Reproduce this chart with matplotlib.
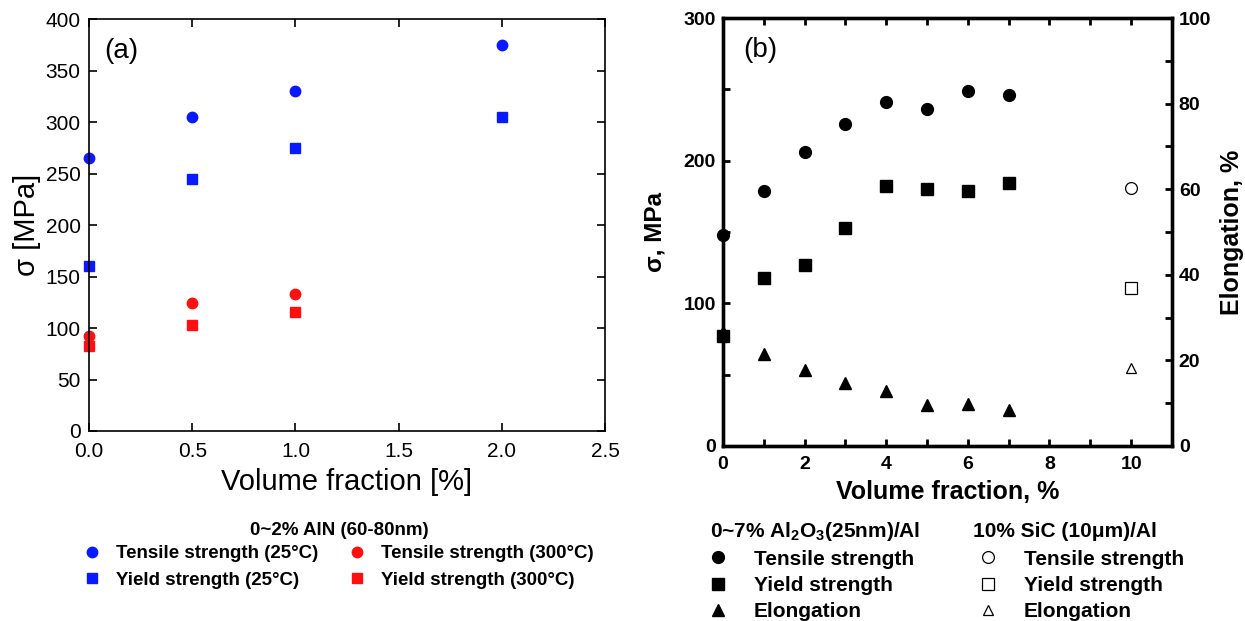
import numpy as np
import matplotlib.pyplot as plt
from matplotlib.ticker import MultipleLocator

plt.rcParams['font.family'] = ['Liberation Sans', 'DejaVu Sans']
plt.rcParams['mathtext.fontset'] = 'custom'
plt.rcParams['mathtext.rm'] = 'Liberation Sans:bold'

# (a) AlN / Al
vf_a = [0.0, 0.5, 1.0, 2.0]
ts_25 = [265, 305, 330, 375]
ys_25 = [160, 245, 275, 305]
vf_a_hot = [0.0, 0.5, 1.0]
ts_300 = [92, 124, 133]
ys_300 = [83, 103, 116]

# (b) Al2O3 / Al and SiC / Al
vf_b = [0, 1, 2, 3, 4, 5, 6, 7]
ts_b = [148, 179, 206, 226, 241, 236, 249, 246]
ys_b = [77, 118, 127, 153, 182, 180, 179, 184]
el_b = [26.5, 21.4, 17.7, 14.8, 12.8, 9.5, 9.9, 8.3]
vf_sic = [10]
ts_sic = [181]
ys_sic = [111]
el_sic = [18.3]

fig = plt.figure(figsize=(12.45, 6.21), dpi=100)

# ---- panel (a)
ax1 = fig.add_axes([0.0715, 0.306, 0.4145, 0.663])
ax1.plot(vf_a, ts_25, 'o', color='#0a1aff', ms=7.5, clip_on=False, label='Tensile strength (25°C)')
ax1.plot(vf_a, ys_25, 's', color='#0a1aff', ms=7, clip_on=False, label='Yield strength (25°C)')
ax1.plot(vf_a_hot, ts_300, 'o', color='#ff1010', ms=7.5, clip_on=False, label='Tensile strength (300°C)')
ax1.plot(vf_a_hot, ys_300, 's', color='#ff1010', ms=7, clip_on=False, label='Yield strength (300°C)')
ax1.set_xlim(0, 2.5)
ax1.set_ylim(0, 400)
ax1.xaxis.set_major_locator(MultipleLocator(0.5))
ax1.yaxis.set_major_locator(MultipleLocator(50))
ax1.xaxis.set_major_formatter(plt.FormatStrFormatter('%.1f'))
ax1.tick_params(direction='in', top=True, right=True, length=6, width=1.2, labelsize=15)
ax1.tick_params(axis='x', pad=8)
ax1.tick_params(axis='y', pad=6)
for s in ax1.spines.values():
    s.set_linewidth(1.2)
ax1.set_xlabel('Volume fraction [%]', fontsize=21, labelpad=5)
ax1.set_ylabel('σ [MPa]', fontsize=21, labelpad=3)
ax1.text(0.03, 0.955, '(a)', transform=ax1.transAxes, fontsize=20, va='top')

h = ax1.get_legend_handles_labels()[0]
fig.text(0.2723, 0.1385, '0~2% AlN (60-80nm)', ha='center', va='baseline',
         fontsize=13.5, fontweight='bold')
fig.legend(handles=h, ncol=2, loc='upper left', bbox_to_anchor=(0.0667, 0.122),
           frameon=False, prop={'weight': 'bold', 'size': 13.5},
           handlelength=1.0, handletextpad=0.78, columnspacing=1.55,
           labelspacing=0.49, borderpad=0, borderaxespad=0)

# ---- panel (b)
ax2 = fig.add_axes([0.5807, 0.282, 0.3606, 0.689])
ax3 = ax2.twinx()
ax2.plot(vf_b, ts_b, 'o', color='black', ms=8.5, clip_on=False, label='Tensile strength')
ax2.plot(vf_b, ys_b, 's', color='black', ms=8.5, clip_on=False, label='Yield strength')
ax3.plot(vf_b, el_b, '^', color='black', ms=8, clip_on=False, label='Elongation')
ax2.plot(vf_sic, ts_sic, 'o', mfc='white', mec='black', mew=0.9, ms=8.5, label='Tensile strength')
ax2.plot(vf_sic, ys_sic, 's', mfc='white', mec='black', mew=0.9, ms=8.5, label='Yield strength')
ax3.plot(vf_sic, el_sic, '^', mfc='white', mec='black', mew=0.9, ms=7, label='Elongation')

ax2.set_xlim(0, 11)
ax2.set_ylim(0, 300)
ax3.set_ylim(0, 100)
ax2.xaxis.set_major_locator(MultipleLocator(2))
ax2.xaxis.set_minor_locator(MultipleLocator(1))
ax2.yaxis.set_major_locator(MultipleLocator(100))
ax2.yaxis.set_minor_locator(MultipleLocator(50))
ax3.yaxis.set_major_locator(MultipleLocator(20))
ax3.yaxis.set_minor_locator(MultipleLocator(10))
for a in (ax2, ax3):
    a.tick_params(which='both', direction='in', width=2, length=5, labelsize=14, pad=5)
    for s in a.spines.values():
        s.set_linewidth(2.4)
    for lab in a.get_xticklabels() + a.get_yticklabels():
        lab.set_fontweight('bold')
ax2.tick_params(which='both', top=True)
ax2.tick_params(axis='x', pad=7)
ax2.set_xlabel('Volume fraction, %', fontsize=18, fontweight='bold', labelpad=5)
ax2.set_ylabel('σ, MPa', fontsize=17.5, fontweight='bold', labelpad=12)
ax3.set_ylabel('Elongation, %', fontsize=18, fontweight='bold', labelpad=6)
ax2.text(0.045, 0.955, '(b)', transform=ax2.transAxes, fontsize=20, va='top')

hb = ax2.get_legend_handles_labels()[0] + ax3.get_legend_handles_labels()[0]
h_al = [hb[0], hb[1], hb[4]]
h_sic = [hb[2], hb[3], hb[5]]
common = dict(frameon=False, prop={'weight': 'bold', 'size': 15},
              handlelength=1.0, handletextpad=1.23,
              labelspacing=0.35, borderpad=0, borderaxespad=0)
fig.text(0.5703, 0.1353, r'0~7% Al$\mathrm{_2}$O$\mathrm{_3}$(25nm)/Al', va='baseline',
         fontsize=15, fontweight='bold')
fig.text(0.7815, 0.1353, '10% SiC (10μm)/Al', va='baseline',
         fontsize=15, fontweight='bold')
fig.legend(handles=h_al, loc='upper left', bbox_to_anchor=(0.5684, 0.115), **common)
fig.legend(handles=h_sic, loc='upper left', bbox_to_anchor=(0.7852, 0.115), **common)

fig.savefig('out.png', dpi=100)
